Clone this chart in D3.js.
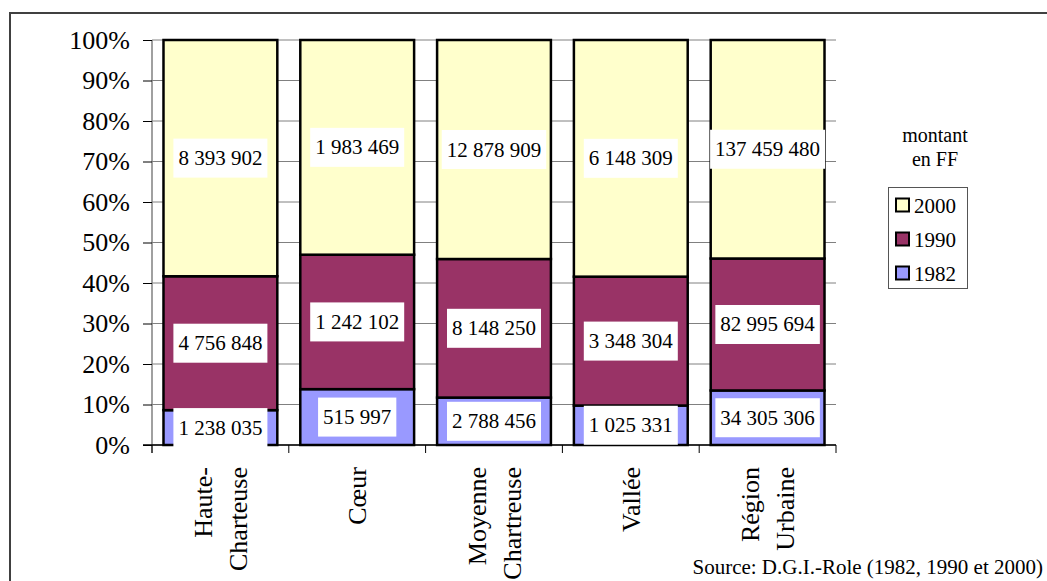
<!DOCTYPE html>
<html>
<head>
<meta charset="utf-8">
<script src="https://cdn.jsdelivr.net/npm/d3@7"></script>
<style>
  html, body { margin: 0; padding: 0; background: #fff; }
  svg { display: block; }
  svg text { font-family: "Liberation Serif", "DejaVu Serif", serif !important; }
</style>
</head>
<body>
<svg id="chart" width="1047" height="581"></svg>
<script>
// ---- data ----
const categories = ["Haute-Charteuse", "Cœur", "Moyenne Chartreuse", "Vallée", "Région Urbaine"];
const categoryLines = [["Haute-", "Charteuse"], ["Cœur"], ["Moyenne", "Chartreuse"], ["Vallée"], ["Région", "Urbaine"]];
const seriesNames = ["1982", "1990", "2000"];
const values1982 = [1238035, 515997, 2788456, 1025331, 34305306];
const values1990 = [4756848, 1242102, 8148250, 3348304, 82995694];
const values2000 = [8393902, 1983469, 12878909, 6148309, 137459480];
const seriesColors = ["#9999FF", "#993366", "#FFFFCC"];
const yTicks = [0, 0.1, 0.2, 0.3, 0.4, 0.5, 0.6, 0.7, 0.8, 0.9, 1.0];
const legendTitle = ["montant", "en FF"];
const sourceText = "Source: D.G.I.-Role (1982, 1990 et 2000)";

// ---- build table ----
const table = categories.map((c, i) => ({
  cat: c, "1982": values1982[i], "1990": values1990[i], "2000": values2000[i]
}));
const stack = d3.stack().keys(seriesNames).offset(d3.stackOffsetExpand);
const stacked = stack(table);

const fr = d3.formatLocale({ decimal: ",", thousands: " ", grouping: [3], currency: ["", ""] });
const fmt = fr.format(",d");

const svg = d3.select("#chart");

// outer frame
svg.append("rect").attr("x", 10).attr("y", 13).attr("width", 1060).attr("height", 600)
  .attr("fill", "none").attr("stroke", "#404040").attr("stroke-width", 2);

const plot = { left: 152, right: 836, top: 40, bottom: 445 };

const x = d3.scaleBand().domain(categories).range([plot.left, plot.right])
  .paddingInner(0.168).paddingOuter(0.084);
const y = d3.scaleLinear().domain([0, 1]).range([plot.bottom, plot.top]);

// gridlines
svg.append("g").selectAll("line").data(yTicks).join("line")
  .attr("x1", plot.left).attr("x2", plot.right)
  .attr("y1", d => y(d)).attr("y2", d => y(d))
  .attr("stroke", "#808080").attr("stroke-width", 1);

// y axis
const yAxis = svg.append("g").attr("transform", `translate(${plot.left},0)`)
  .call(d3.axisLeft(y).tickValues(yTicks).tickFormat(d3.format(".0%")).tickSize(9).tickPadding(13));
yAxis.attr("font-family", null).attr("font-size", null);
yAxis.select(".domain").attr("stroke", "#808080").attr("stroke-width", 1.5)
  .attr("d", `M0,${plot.top}V${plot.bottom + 8}`);
yAxis.selectAll(".tick line").attr("stroke", "#000").attr("stroke-width", 1);
yAxis.selectAll(".tick text").attr("font-size", 26).attr("fill", "#000");

// x axis line and ticks at band boundaries
const boundaries = d3.range(categories.length + 1).map(i => plot.left + i * (plot.right - plot.left) / categories.length);
svg.append("line").attr("x1", plot.left - 9).attr("x2", plot.right)
  .attr("y1", plot.bottom).attr("y2", plot.bottom).attr("stroke", "#000").attr("stroke-width", 1.5);
svg.append("g").selectAll("line").data(boundaries).join("line")
  .attr("x1", d => d).attr("x2", d => d)
  .attr("y1", plot.bottom).attr("y2", plot.bottom + 8)
  .attr("stroke", "#000").attr("stroke-width", 1);

// bars
const layers = svg.append("g").selectAll("g").data(stacked).join("g")
  .attr("fill", (d, i) => seriesColors[i]);
layers.selectAll("rect").data(d => d).join("rect")
  .attr("x", d => x(d.data.cat))
  .attr("width", x.bandwidth())
  .attr("y", d => y(d[1]))
  .attr("height", d => y(d[0]) - y(d[1]))
  .attr("stroke", "#000").attr("stroke-width", 2.5);

// value labels
const labelG = svg.append("g");
stacked.forEach((layer) => {
  layer.forEach(d => {
    const cx = x(d.data.cat) + x.bandwidth() / 2;
    const cy = (y(d[0]) + y(d[1])) / 2;
    const g = labelG.append("g");
    const t = g.append("text").attr("x", cx).attr("y", cy + 7)
      .attr("text-anchor", "middle").attr("font-size", 21).attr("fill", "#000")
      .text(fmt(d.data[layer.key]));
    const w = t.node().getComputedTextLength();
    g.insert("rect", "text").attr("x", cx - w / 2 - 5).attr("y", cy - 19.5)
      .attr("width", w + 10).attr("height", 39).attr("fill", "#fff");
  });
});

// category labels (rotated)
categories.forEach((c, i) => {
  const lines = categoryLines[i];
  const cx = x(c) + x.bandwidth() / 2;
  const n = lines.length;
  lines.forEach((ln, j) => {
    const off = (j - (n - 1) / 2) * 35;
    svg.append("text")
      .attr("transform", `translate(${cx + off + 9},${plot.bottom + 22}) rotate(-90)`)
      .attr("text-anchor", "end").attr("font-size", 26).attr("fill", "#000")
      .text(ln);
  });
});

// legend title
legendTitle.forEach((t, i) => {
  svg.append("text").attr("x", 935).attr("y", 142 + i * 24)
    .attr("text-anchor", "middle").attr("font-size", 20).attr("fill", "#000").text(t);
});

// legend box
svg.append("rect").attr("x", 888.5).attr("y", 187.5).attr("width", 79).attr("height", 101)
  .attr("fill", "#fff").attr("stroke", "#555").attr("stroke-width", 1);
const legendOrder = [2, 1, 0];
legendOrder.forEach((si, k) => {
  const cy = 205 + k * 34;
  svg.append("rect").attr("x", 896).attr("y", cy - 6.5).attr("width", 13).attr("height", 13)
    .attr("fill", seriesColors[si]).attr("stroke", "#000").attr("stroke-width", 2);
  svg.append("text").attr("x", 914).attr("y", cy + 7.5).attr("font-size", 21).attr("fill", "#000")
    .text(seriesNames[si]);
});

// source
svg.append("text").attr("x", 1043).attr("y", 574).attr("text-anchor", "end")
  .attr("font-size", 21).attr("fill", "#000").text(sourceText);
</script>
</body>
</html>
